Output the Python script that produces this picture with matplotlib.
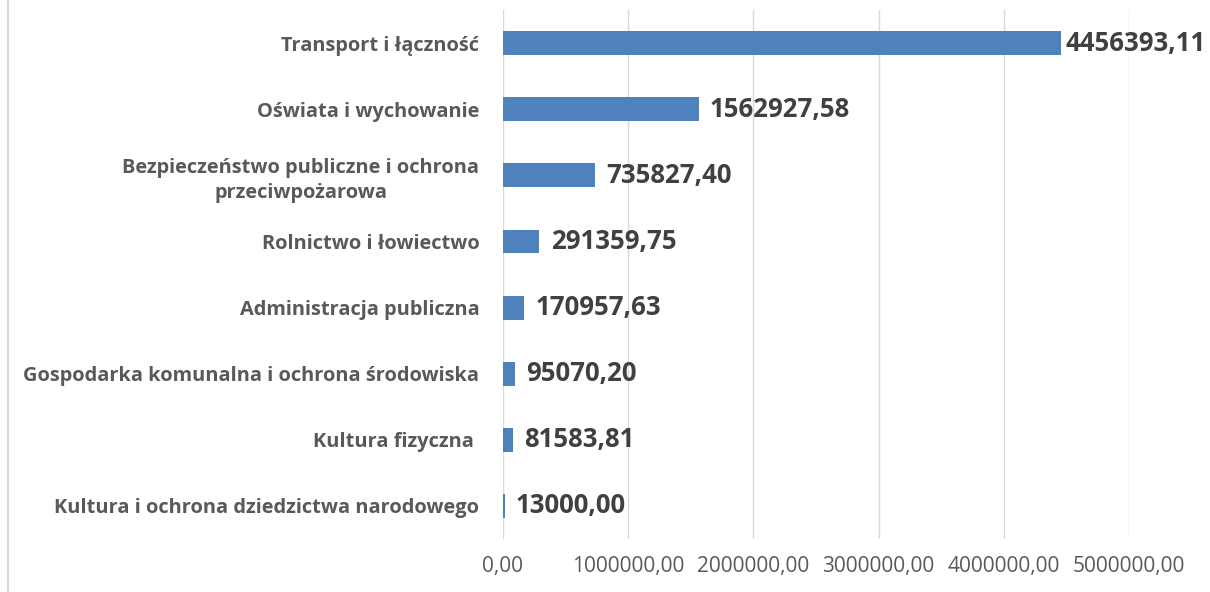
import matplotlib.pyplot as plt
from matplotlib.lines import Line2D

categories = [
    'Transport i łączność',
    'Oświata i wychowanie',
    'Bezpieczeństwo publiczne i ochrona\nprzeciwpożarowa',
    'Rolnictwo i łowiectwo',
    'Administracja publiczna',
    'Gospodarka komunalna i ochrona środowiska',
    'Kultura fizyczna ',
    'Kultura i ochrona dziedzictwa narodowego',
]
values = [4456393.11, 1562927.58, 735827.40, 291359.75, 170957.63, 95070.20, 81583.81, 13000.00]
xticks = [0, 1000000, 2000000, 3000000, 4000000, 5000000]

def pl(v):
    return f'{v:.2f}'.replace('.', ',')

plt.rcParams['font.family'] = ['Open Sans', 'DejaVu Sans']

fig = plt.figure(figsize=(12.1, 5.92), dpi=100)
ax = fig.add_axes([0.4157, 0.0895, 0.933 - 0.4157, 0.983 - 0.0895])

y = list(range(len(categories)))
ax.barh(y, values, height=0.36, color='#4f81bd', zorder=3)
ax.set_ylim(len(categories) - 0.5, -0.5)
ax.set_xlim(0, 5000000)

ax.set_yticks(y)
ax.set_yticklabels(categories, fontsize=14.4, fontweight='bold', color='#595959',
                   multialignment='center', linespacing=1.35)
ax.set_xticks(xticks)
ax.set_xticklabels([pl(t) for t in xticks], fontsize=15, color='#595959')
ax.tick_params(axis='y', length=0, pad=17)
ax.tick_params(axis='x', length=0, pad=12)

ax.grid(axis='x', color='#d9d9d9', linewidth=1, zorder=0)
for s in ax.spines.values():
    s.set_visible(False)

for yi, v in zip(y, values):
    off = 3 if yi == 0 else 8
    ax.annotate(pl(v), (v, yi), xytext=(off, 0), textcoords='offset points',
                va='center', ha='left', fontsize=18.5, fontweight='bold', color='#404040',
                annotation_clip=False)

fig.add_artist(Line2D([8 / 1210, 8 / 1210], [0, 1], color='#d9d9d9', linewidth=1.5,
                      transform=fig.transFigure))

fig.savefig('out.png', dpi=100)
